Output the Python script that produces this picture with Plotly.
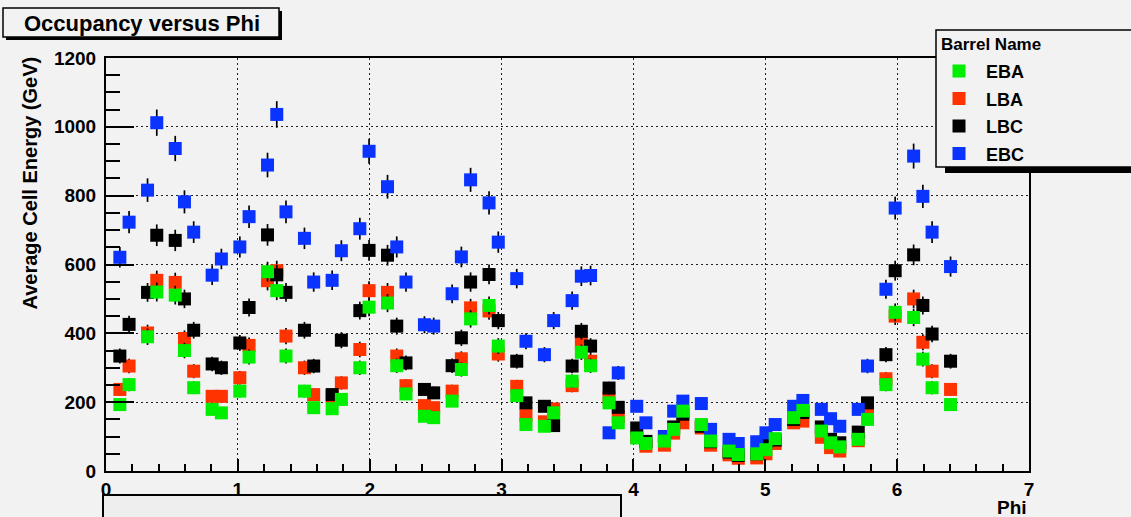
import numpy as np
import plotly.graph_objects as go

# Bin centres (rad) of the occupied phi bins
phi = [0.105, 0.175, 0.315, 0.385, 0.525, 0.595, 0.665, 0.805, 0.875, 1.015,
       1.085, 1.225, 1.295, 1.365, 1.505, 1.575, 1.715, 1.785, 1.925, 1.995,
       2.135, 2.205, 2.275, 2.415, 2.485, 2.625, 2.695, 2.765, 2.905, 2.975,
       3.115, 3.185, 3.325, 3.395, 3.535, 3.605, 3.675, 3.815, 3.885, 4.025,
       4.095, 4.235, 4.305, 4.375, 4.515, 4.585, 4.725, 4.795, 4.935, 5.005,
       5.075, 5.215, 5.285, 5.425, 5.495, 5.565, 5.705, 5.775, 5.915, 5.985,
       6.125, 6.195, 6.265, 6.405]

# Average cell energy (GeV) per barrel
eba = [193, 251, 390, 520, 511, 350, 242, 179, 169, 232,
       331, 579, 524, 334, 232, 184, 181, 208, 300, 476,
       488, 306, 224, 159, 155, 203, 295, 442, 481, 363,
       219, 135, 130, 169, 261, 345, 306, 198, 140, 96,
       80, 87, 121, 174, 135, 87, 58, 48, 50, 62,
       94, 155, 176, 116, 82, 70, 92, 150, 251, 461,
       446, 325, 242, 193]
lba = [237, 305, 401, 554, 548, 385, 290, 217, 217, 271,
       365, 553, 582, 392, 300, 222, 217, 256, 353, 524,
       519, 334, 248, 190, 184, 232, 326, 474, 465, 340,
       246, 161, 143, 180, 248, 372, 319, 213, 158, 98,
       72, 75, 110, 140, 125, 75, 47, 37, 38, 50,
       80, 140, 145, 98, 68, 58, 88, 163, 268, 450,
       500, 374, 290, 237]
lbc = [334, 426, 519, 685, 670, 500, 409, 311, 300, 372,
       475, 686, 570, 519, 409, 305, 222, 380, 466, 641,
       627, 421, 314, 237, 227, 306, 387, 549, 571, 437,
       319, 198, 188, 132, 305, 406, 363, 241, 185, 125,
       86, 100, 128, 165, 130, 85, 55, 45, 50, 85,
       90, 150, 170, 128, 92, 82, 113, 198, 338, 582,
       628, 481, 398, 319]
ebc = [621, 723, 816, 1012, 937, 782, 694, 569, 616, 651,
       739, 889, 1036, 753, 676, 549, 554, 640, 704, 929,
       826, 651, 549, 425, 421, 515, 622, 846, 779, 665,
       559, 377, 338, 437, 495, 566, 568, 111, 285, 188,
       140, 100, 174, 203, 196, 121, 92, 80, 85, 111,
       135, 188, 205, 179, 152, 130, 179, 305, 528, 764,
       915, 798, 694, 594]

x_ticks = [0, 1, 2, 3, 4, 5, 6, 7]
y_ticks = [0, 200, 400, 600, 800, 1000, 1200]

colors = {"EBA": "#00ee00", "LBA": "#ff3300", "LBC": "#000000", "EBC": "#0a33ff"}
values = {"EBA": eba, "LBA": lba, "LBC": lbc, "EBC": ebc}
legend_order = ["EBA", "LBA", "LBC", "EBC"]
draw_order = ["LBA", "LBC", "EBC", "EBA"]

FONT = "Liberation Sans, Arial, Helvetica, sans-serif"
W, H = 1131, 517
ML, MR, MT, MB = 106, 102, 58, 46
PW, PH = W - ML - MR, H - MT - MB


def fx(x):
    return (x - ML) / PW


def fy(y):
    return (H - MB - y) / PH


fig = go.Figure()
for name in draw_order:
    v = np.array(values[name], dtype=float)
    fig.add_trace(go.Scatter(
        x=phi, y=v, mode="markers", name=name, showlegend=False,
        marker=dict(symbol="square", size=13, color=colors[name], line=dict(width=0)),
        error_y=dict(type="data", array=1.2 * np.sqrt(v), color="black",
                     thickness=1.7, width=0),
    ))

shapes = []
annotations = []

# Title box with drop shadow
shapes.append(dict(type="rect", xref="paper", yref="paper", x0=fx(6), x1=fx(282),
                   y0=fy(40), y1=fy(11), fillcolor="black", line=dict(width=0), layer="above"))
shapes.append(dict(type="rect", xref="paper", yref="paper", x0=fx(3), x1=fx(279),
                   y0=fy(37), y1=fy(8), fillcolor="#f2f2f2",
                   line=dict(color="black", width=1.5), layer="above"))
annotations.append(dict(text="Occupancy versus Phi", xref="paper", yref="paper",
                        x=fx(22), y=fy(23), xanchor="left", yanchor="middle",
                        showarrow=False, font=dict(family=FONT, size=22, color="black", weight="bold")))

# Legend box with drop shadow
shapes.append(dict(type="rect", xref="paper", yref="paper", x0=fx(945), x1=fx(1145),
                   y0=fy(173), y1=fy(36), fillcolor="black", line=dict(width=0), layer="above"))
shapes.append(dict(type="rect", xref="paper", yref="paper", x0=fx(936), x1=fx(1145),
                   y0=fy(167), y1=fy(30), fillcolor="#f2f2f2",
                   line=dict(color="black", width=1.5), layer="above"))
annotations.append(dict(text="Barrel Name", xref="paper", yref="paper",
                        x=fx(939), y=fy(44), xanchor="left", yanchor="middle",
                        showarrow=False, font=dict(family=FONT, size=17, color="black", weight="bold")))
for i, name in enumerate(legend_order):
    yc = 71 + 27.5 * i
    shapes.append(dict(type="rect", xref="paper", yref="paper", x0=fx(952.5), x1=fx(965.5),
                       y0=fy(yc + 6.5), y1=fy(yc - 6.5), fillcolor=colors[name],
                       line=dict(width=0), layer="above"))
    annotations.append(dict(text=name, xref="paper", yref="paper",
                            x=fx(984), y=fy(yc + 1), xanchor="left", yanchor="middle",
                            showarrow=False,
                            font=dict(family=FONT, size=18, color="black", weight="bold")))

# Panel partly covering the bottom edge
shapes.append(dict(type="rect", xref="paper", yref="paper", x0=fx(103), x1=fx(621),
                   y0=fy(530), y1=fy(495), fillcolor="#eeeeee",
                   line=dict(color="black", width=2), layer="above"))

# Axis titles
annotations.append(dict(text="Average Cell Energy (GeV)", xref="paper", yref="paper",
                        x=fx(30), y=fy(55), xanchor="center", yanchor="top", textangle=-90,
                        showarrow=False, font=dict(family=FONT, size=20, color="black", weight="bold")))
annotations.append(dict(text="Phi", xref="paper", yref="paper",
                        x=1.0, y=fy(507), xanchor="right", yanchor="middle",
                        showarrow=False, font=dict(family=FONT, size=19, color="black", weight="bold")))

axis_common = dict(
    ticks="inside", tickcolor="black", tickwidth=2,
    showline=True, linecolor="black", linewidth=2, mirror=True,
    showgrid=True, gridcolor="#222222", gridwidth=1, griddash="2px,3px",
    zeroline=False,
    tickfont=dict(family=FONT, size=19, color="black", weight="bold"),
)

fig.update_layout(
    width=W, height=H, autosize=False,
    margin=dict(l=ML, r=MR, t=MT, b=MB, pad=0),
    paper_bgcolor="#f2f2f2", plot_bgcolor="#f2f2f2",
    showlegend=False,
    xaxis=dict(range=[0, 7], tickvals=x_ticks, ticktext=[str(t) for t in x_ticks], ticklen=12,
               ticklabelstandoff=0,
               minor=dict(dtick=0.2, tick0=0, ticks="inside", ticklen=7, tickwidth=1.5,
                          tickcolor="black", showgrid=False),
               **axis_common),
    yaxis=dict(range=[0, 1200], tickvals=y_ticks, ticktext=[str(t) for t in y_ticks], ticklen=28,
               ticklabelstandoff=4,
               minor=dict(dtick=50, tick0=0, ticks="inside", ticklen=14, tickwidth=1.5,
                          tickcolor="black", showgrid=False),
               **axis_common),
    shapes=shapes,
    annotations=annotations,
)

fig.write_html("out.html")
